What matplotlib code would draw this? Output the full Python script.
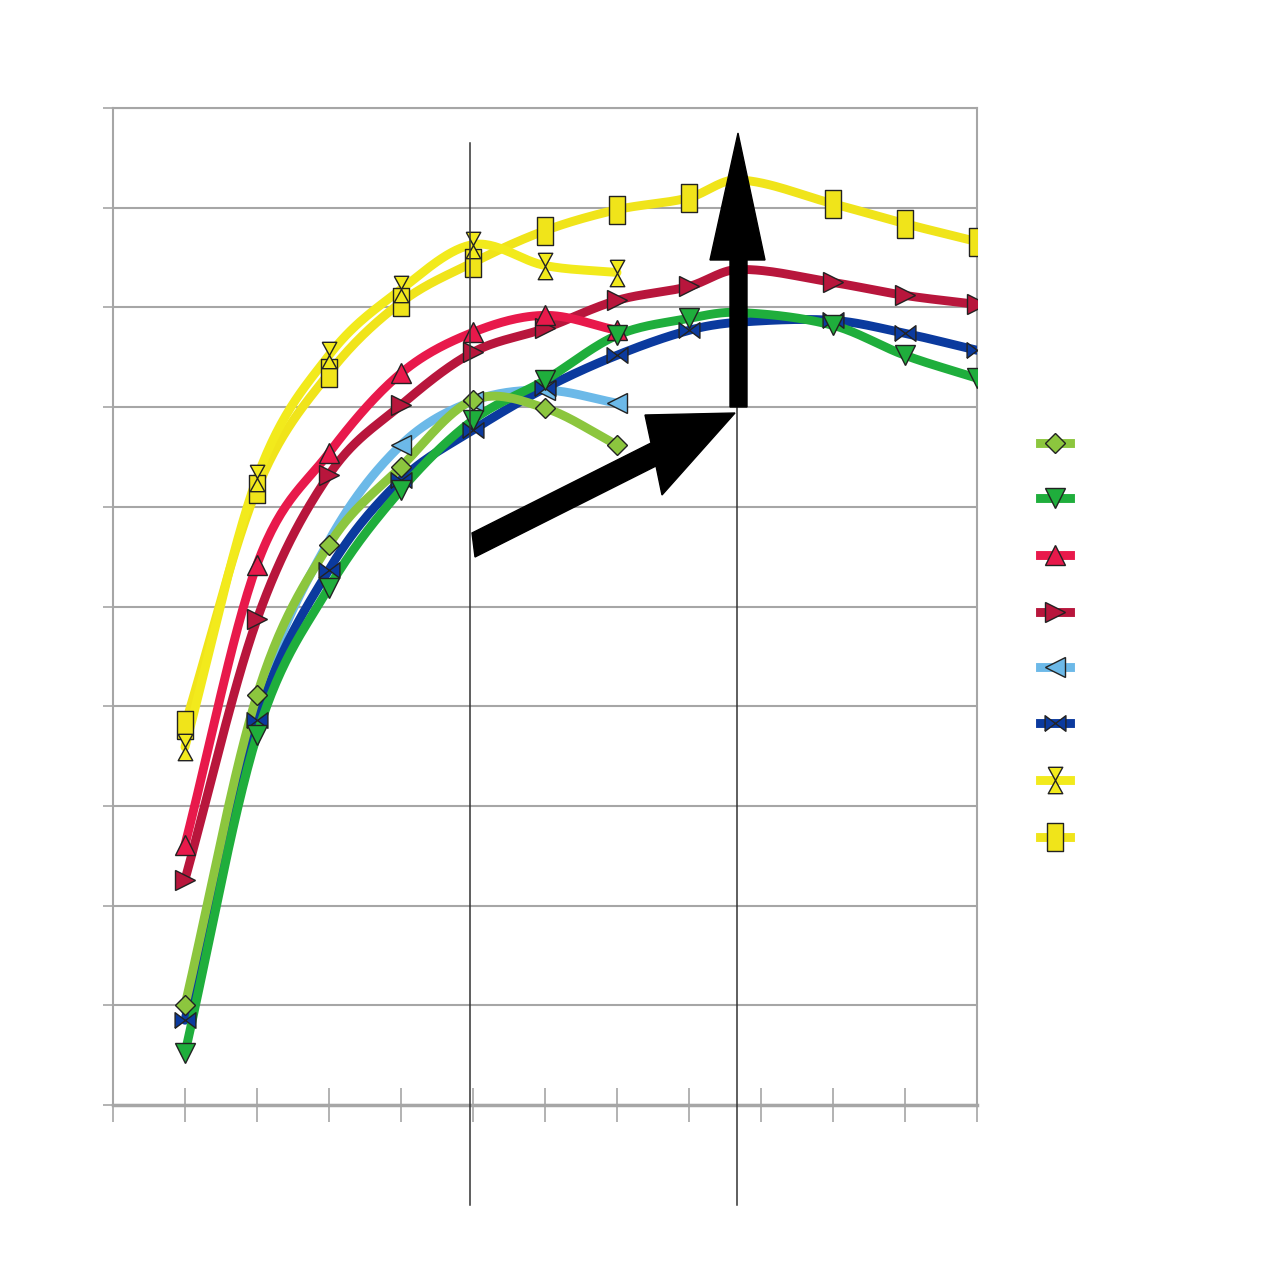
import numpy as np
import matplotlib.pyplot as plt
from matplotlib.path import Path
from matplotlib.lines import Line2D
from matplotlib.patches import Polygon

# x positions (category index); the peak column sits behind the arrow
x_short = [1, 2, 3, 4, 5, 6, 7]
x_long = [1, 2, 3, 4, 5, 6, 7, 8, 8.67, 10, 11, 12]

s1 = [1.00, 4.11, 5.62, 6.40, 7.07, 6.99, 6.62]           # light green diamond
s2 = [0.52, 3.71, 5.19, 6.17, 6.87, 7.27, 7.72, 7.89, 7.95, 7.82, 7.52, 7.29]  # green
s3 = [2.61, 5.42, 6.54, 7.34, 7.75, 7.92, 7.77]           # crimson
s4 = [2.26, 4.87, 6.32, 7.02, 7.55, 7.79, 8.07, 8.21, 8.38, 8.25, 8.12, 8.03]  # dark red
s5 = [0.95, 4.02, 5.66, 6.62, 7.06, 7.17, 7.04]           # light blue
s6 = [0.85, 3.86, 5.37, 6.27, 6.77, 7.19, 7.52, 7.77, 7.85, 7.87, 7.74, 7.57]  # dark blue
s7 = [3.59, 6.29, 7.52, 8.18, 8.63, 8.42, 8.35]           # yellow hourglass
s8 = [3.81, 6.18, 7.34, 8.05, 8.45, 8.77, 8.98, 9.10, 9.28, 9.04, 8.84, 8.66]  # yellow square

bowtie_h = Path([(-1, -0.75), (-1, 0.75), (0, 0), (1, 0.75), (1, -0.75), (0, 0), (-1, -0.75)])
hourglass = Path([(-0.55, 1), (0.55, 1), (0, 0), (0.55, -1), (-0.55, -1), (0, 0), (-0.55, 1)])
rect = Path([(-0.6, -1), (0.6, -1), (0.6, 1), (-0.6, 1), (-0.6, -1)])

# x, y, colour, marker, size, line zorder, first marker index
series = [
    (x_short, s1, '#8cc63e', 'D', 10, 3.4, 0),
    (x_long, s2, '#1fae3c', 'v', 14, 3.3, 0),
    (x_short, s3, '#e8194b', '^', 14, 3.2, 0),
    (x_long, s4, '#b8163c', '>', 14, 3.1, 0),
    (x_short, s5, '#6cb9e8', '<', 14, 2.5, 3),
    (x_long, s6, '#0b3a9e', bowtie_h, 15, 3.0, 0),
    (x_short, s7, '#f2ea1c', hourglass, 19, 2.9, 0),
    (x_long, s8, '#f0e41a', rect, 20, 2.8, 0),
]


def smooth(x, y, n=30):
    # cubic hermite through the points, like a smoothed spreadsheet line
    x = np.asarray(x, float)
    y = np.asarray(y, float)
    m = np.empty_like(y)
    m[1:-1] = (y[2:] - y[:-2]) / (x[2:] - x[:-2])
    m[0] = (y[1] - y[0]) / (x[1] - x[0])
    m[-1] = (y[-1] - y[-2]) / (x[-1] - x[-2])
    xs, ys = [], []
    t = np.linspace(0, 1, n, endpoint=False)
    for i in range(len(x) - 1):
        h = x[i + 1] - x[i]
        h00 = 2 * t ** 3 - 3 * t ** 2 + 1
        h10 = t ** 3 - 2 * t ** 2 + t
        h01 = -2 * t ** 3 + 3 * t ** 2
        h11 = t ** 3 - t ** 2
        xs.append(x[i] + h * t)
        ys.append(h00 * y[i] + h10 * h * m[i] + h01 * y[i + 1] + h11 * h * m[i + 1])
    xs.append([x[-1]])
    ys.append([y[-1]])
    return np.concatenate(xs), np.concatenate(ys)


fig = plt.figure(figsize=(12.8, 12.8), dpi=100)
ax = fig.add_axes([113 / 1280, 175 / 1280, 864 / 1280, 997 / 1280])

grid_c = '#a6a6a6'
ax.set_xlim(0, 12)
ax.set_ylim(0, 10)
ax.set_xticks(range(13))
ax.set_yticks(range(11))
ax.set_xticklabels([])
ax.set_yticklabels([])
ax.tick_params(axis='x', direction='inout', length=25, width=1.2, color=grid_c)
ax.tick_params(axis='y', direction='out', length=7, width=1.2, color=grid_c)
ax.yaxis.grid(True, color=grid_c, lw=1.5)
ax.set_axisbelow(True)
for sp in ax.spines.values():
    sp.set_color(grid_c)
    sp.set_linewidth(1.5)
ax.spines['bottom'].set_linewidth(2.5)

for xs, ys, col, mk, ms, z, first in series:
    cx, cy = smooth(xs, ys)
    ax.plot(cx, cy, color=col, lw=6.4, solid_capstyle='round', zorder=z)
    idx = [i for i, v in enumerate(xs) if v != 8.67 and i >= first]
    ax.plot([xs[i] for i in idx], [ys[i] for i in idx], ls='none', marker=mk, ms=ms,
            mfc=col, mec='#222222', mew=1.0, zorder=z + 1)

# annotation lines and arrows (pixel layout converted to data units)
def d(px, py):
    return ((px - 113) / 72, (1105 - py) / 99.7)

ax.plot([4.96, 4.96], [d(0, 143)[1], d(0, 1205)[1]], color='#333333', lw=1.1,
        clip_on=False, zorder=5)
ax.plot([8.67, 8.67], [d(0, 407)[1], d(0, 1205)[1]], color='#333333', lw=1.1,
        clip_on=False, zorder=5)

diag = [d(472, 533), d(651, 443), d(645, 415), d(735, 413), d(662, 495), d(656, 466), d(475, 557)]
vert = [d(730, 407), d(730, 260), d(710, 260), d(738, 133), d(765, 260), d(747, 260), d(747, 407)]
ax.add_patch(Polygon(diag, closed=True, color='black', zorder=6, clip_on=False))
ax.add_patch(Polygon(vert, closed=True, color='black', zorder=6, clip_on=False))

# legend without labels
leg_y = [443, 498, 555, 612, 667, 723, 780, 837]
for (xs, ys, col, mk, ms, z, first), py in zip(series, leg_y):
    fy = 1 - py / 1280
    fig.add_artist(Line2D([1040 / 1280, 1070 / 1280], [fy, fy], color=col, lw=6.4,
                          transform=fig.transFigure))
    fig.add_artist(Line2D([1055 / 1280], [fy], marker=mk, ms=ms, mfc=col, mec='#222222',
                          mew=1.0, transform=fig.transFigure))

fig.savefig('out.png', dpi=100)
